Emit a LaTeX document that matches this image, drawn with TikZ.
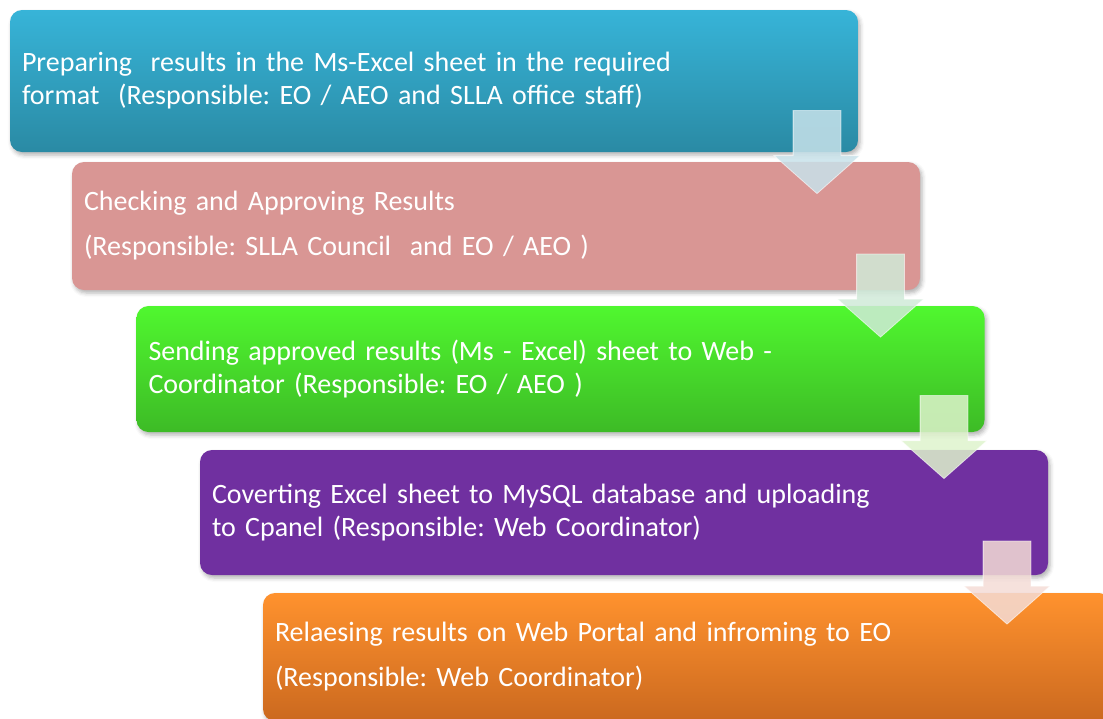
\documentclass[tikz,border=0pt]{standalone}
\usepackage{fontspec}
\setmainfont{Carlito}
\frenchspacing
\usetikzlibrary{positioning,shapes.arrows,shadows.blur}

\definecolor{tealtop}{HTML}{37B4D8}
\definecolor{tealbot}{HTML}{2A8AA4}
\definecolor{rosebox}{HTML}{D99694}
\definecolor{greentop}{HTML}{50F72F}
\definecolor{greenbot}{HTML}{3DBB26}
\definecolor{purplebox}{HTML}{7030A0}
\definecolor{orangetop}{HTML}{FF922E}
\definecolor{orangebot}{HTML}{CB691F}
\definecolor{arrowa}{HTML}{C8E2EA}
\definecolor{arrowb}{HTML}{D0EAD8}
\definecolor{arrowc}{HTML}{DEF3CC}
\definecolor{arrowd}{HTML}{F4DCD6}

\tikzset{
  stepbox/.style={rectangle, rounded corners=12pt, minimum width=848pt,
    text width=824pt, inner xsep=12pt, align=left, text=white,
    font=\fontsize{28}{33}\selectfont,
    blur shadow={shadow xshift=2pt, shadow yshift=-3pt, shadow blur radius=4pt, shadow opacity=30}},
  downarrow/.style={single arrow, shape border rotate=270, minimum height=83pt,
    inner sep=23.5pt, single arrow head extend=19pt, single arrow tip angle=97,
    fill=#1, fill opacity=0.85, draw=white, draw opacity=0.6, line width=0.8pt}
}

\begin{document}
\begin{tikzpicture}[x=1pt, y=1pt]

    \useasboundingbox (0,0) rectangle (1103,-718);

    % boxes
    \node[stepbox, minimum height=142pt, top color=tealtop, bottom color=tealbot] (prep) at (434,-81)
      {Preparing\ \ results in the Ms-Excel sheet in the required\\format\ \ (Responsible: EO / AEO and SLLA office staff)};
    \node[stepbox, minimum height=128pt, fill=rosebox] (check) at (496,-226)
      {Checking and Approving Results\\[12pt](Responsible: SLLA Council\ \ and EO / AEO )};
    \node[stepbox, minimum height=126pt, top color=greentop, bottom color=greenbot] (send) at (560.5,-369)
      {Sending approved results (Ms - Excel) sheet to Web -\\Coordinator (Responsible: EO / AEO )};
    \node[stepbox, minimum height=125pt, fill=purplebox] (convert) at (624,-512.5)
      {Coverting Excel sheet to MySQL database and uploading\\to Cpanel (Responsible: Web Coordinator)};
    \node[stepbox, minimum height=128pt, top color=orangetop, bottom color=orangebot] (release) at (687,-657)
      {Relaesing results on Web Portal and infroming to EO\\[12pt](Responsible: Web Coordinator)};

    % arrows
    \node[downarrow=arrowa] (a1) at (817,-141.5) {};
    \node[downarrow=arrowb] (a2) at (880.5,-285) {};
    \node[downarrow=arrowc] (a3) at (944,-426.5) {};
    \node[downarrow=arrowd] (a4) at (1007,-572) {};

\end{tikzpicture}
\end{document}
